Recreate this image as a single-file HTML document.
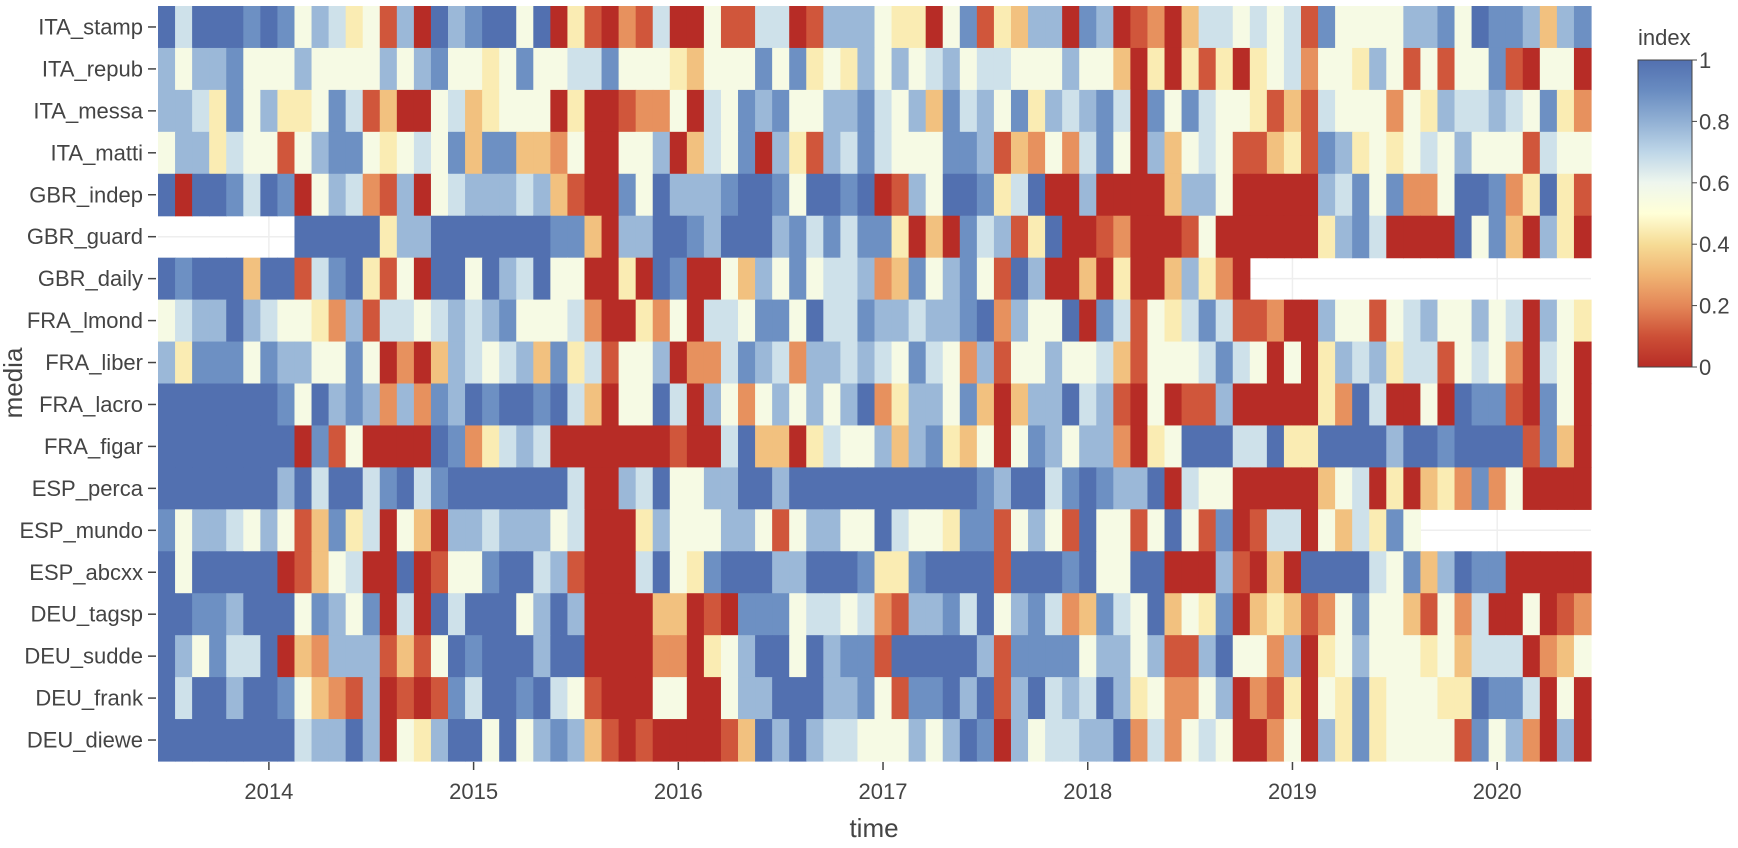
<!DOCTYPE html>
<html>
<head>
<meta charset="utf-8">
<style>
  html,body{margin:0;padding:0;background:#fff;}
  svg{display:block;font-family:"Liberation Sans",Arial,sans-serif;}
</style>
</head>
<body>
<svg id="chart" width="1738" height="848" viewBox="0 0 1738 848" xmlns="http://www.w3.org/2000/svg">
  <g id="grid"></g>
  <g id="cells"></g>
  <g id="yaxis"></g>
  <g id="xaxis"></g>
  <text x="874" y="837" font-size="26" fill="#444" text-anchor="middle">time</text>
  <text x="22" y="383" font-size="26" fill="#444" text-anchor="middle" transform="rotate(-90 22 383)">media</text>
  <defs>
    <linearGradient id="cbgrad" x1="0" y1="1" x2="0" y2="0">
      <stop offset="0" stop-color="rgb(183,44,38)"/>
      <stop offset="0.1" stop-color="rgb(205,80,55)"/>
      <stop offset="0.2" stop-color="rgb(228,135,88)"/>
      <stop offset="0.3" stop-color="rgb(240,180,115)"/>
      <stop offset="0.4" stop-color="rgb(246,220,150)"/>
      <stop offset="0.5" stop-color="rgb(255,255,215)"/>
      <stop offset="0.6" stop-color="rgb(238,246,238)"/>
      <stop offset="0.7" stop-color="rgb(190,214,232)"/>
      <stop offset="0.8" stop-color="rgb(145,176,212)"/>
      <stop offset="0.9" stop-color="rgb(105,140,193)"/>
      <stop offset="1" stop-color="rgb(82,112,176)"/>
    </linearGradient>
  </defs>
  <g id="colorbar">
    <text x="1638" y="45" font-size="22" fill="#444">index</text>
    <rect x="1638" y="60" width="54" height="307" fill="url(#cbgrad)" stroke="#444" stroke-width="1"/>
  </g>
</svg>
<script>
const mediaNames = ["ITA_stamp","ITA_repub","ITA_messa","ITA_matti","GBR_indep","GBR_guard","GBR_daily","FRA_lmond","FRA_liber","FRA_lacro","FRA_figar","ESP_perca","ESP_mundo","ESP_abcxx","DEU_tagsp","DEU_sudde","DEU_frank","DEU_diewe"];
const startYear = 2013, startMonth = 7, monthCount = 84;
const yearTicks = [2014,2015,2016,2017,2018,2019,2020];
const colorbarTicks = [0,0.2,0.4,0.6,0.8,1];
const colorbarTickLabels = ["0","0.2","0.4","0.6","0.8","1"];
// digit d -> index d/9 ; '-' = missing
const rowValues = [
"9699989857645170978995904"+"1021600511660177754405814"+"3770870120366565618555577"+"859887378",
"7577855575555757855458556"+"6855543555858454757567566"+"5557553040414045625547515"+"155810550",
"7764857445861300563455504"+"0012250658785577865738675"+"8476786085865541316555254"+"766765842",
"5774655157885456583883325"+"0055703658074176865558871"+"3252685073565113418745456"+"575551655",
"9099869805762170567776731"+"0085977789985998901759984"+"6900700003775000007685822"+"599824941",
"--------"+"99999477999999988307"+"7998799978686884030867149001"+"2000150000004786000095830740",
"9899939916894150995976955004"+"0980053758566723857851970030"+"40037420"+"--------------------",
"5677976554271665676785556200"+"4250665885966877677892755908"+"6154686112007551567557560754",
"7488858775585020376567384615"+"5702268762776765865271557556"+"3155568650504767466156520650",
"9999999859787272879899896305"+"5960752575757924775830377967"+"1050117000004296005098810850",
"9999999908150000982467600000"+"0010069330465573784350587577"+"2045999669449999799899991830",
"9999999796996896899999996007"+"6955779979999999999987996898"+"7790655000003560403428250000",
"8577657513846053077677756000"+"4755577515775596554881575195"+"515951801660536485"+"----------",
"9599999013560090155899671000"+"6954899977999844899991999895"+"5990007103099996583798800000",
"9988799958758060969995797000"+"0330108885665621778695786238"+"6593548034312585531526005012",
"9758669032777131598999799000"+"0220457995978819999971888857"+"7571179552704575554536660235",
"9699799853217010186998965100"+"0550057799977851889791796769"+"7452257021405484555449886050",
"9999999967797054799595787310"+"1000013979766555757980756677"+"9262565002507484555518572070"
];
const svgNS = "http://www.w3.org/2000/svg";
const X0 = 158, X1 = 1591, Y0 = 6, Y1 = 761;
const CW = (X1 - X0) / monthCount;
const RH = (Y1 - Y0) / mediaNames.length;
const stops = [[0,[183,44,38]],[0.1,[205,80,55]],[0.2,[228,135,88]],[0.3,[240,180,115]],[0.4,[246,220,150]],[0.5,[255,255,215]],[0.6,[238,246,238]],[0.7,[190,214,232]],[0.8,[145,176,212]],[0.9,[105,140,193]],[1,[82,112,176]]];
function colorFor(v){
  for(let i=1;i<stops.length;i++){
    if(v<=stops[i][0]){
      const a=stops[i-1], b=stops[i], t=(v-a[0])/(b[0]-a[0]);
      const c=a[1].map((x,k)=>Math.round(x+(b[1][k]-x)*t));
      return "rgb("+c.join(",")+")";
    }
  }
  return "rgb(82,112,176)";
}
function xScale(monthIndex){ return X0 + (monthIndex + 0.5) * CW; }
function yScale(rowIndex){ return Y0 + (rowIndex + 0.5) * RH; }
function mk(tag, attrs, parent){
  const el = document.createElementNS(svgNS, tag);
  for (const k in attrs) el.setAttribute(k, attrs[k]);
  parent.appendChild(el);
  return el;
}
const grid = document.getElementById("grid");
const cells = document.getElementById("cells");
const yaxis = document.getElementById("yaxis");
const xaxis = document.getElementById("xaxis");
yearTicks.forEach(yr=>{
  const mi = (yr - startYear) * 12 + (1 - startMonth);
  const x = xScale(mi);
  const l = mk("line",{x1:x,x2:x,y1:Y0,y2:Y1,stroke:"#eee","stroke-width":1.5},grid);
  
  
});
mediaNames.forEach((n,r)=>{
  const y = yScale(r);
  const l = mk("line",{x1:X0,x2:X1,y1:y,y2:y,stroke:"#eee","stroke-width":1.5},grid);
  
  
});
rowValues.forEach((s,r)=>{
  for(let c=0;c<s.length && c<monthCount;c++){
    const ch = s[c];
    if(ch === "-") continue;
    const v = parseInt(ch,10)/9;
    const rect = mk("rect",{x:(X0 + c*CW).toFixed(2), y:(Y0 + r*RH).toFixed(2), width:(CW+0.6).toFixed(2), height:(RH+0.6).toFixed(2), fill:colorFor(v)},cells);
    
    
  }
});
mediaNames.forEach((n,r)=>{
  const y = yScale(r);
  const t = mk("line",{x1:148,x2:156,y1:y,y2:y,stroke:"#444","stroke-width":1.5},yaxis);
  
  
  const tx = mk("text",{x:143,y:y+7.5,"font-size":22,fill:"#444","text-anchor":"end"},yaxis);
  tx.textContent = n;
  
  
});
yearTicks.forEach(yr=>{
  const mi = (yr - startYear) * 12 + (1 - startMonth);
  const x = xScale(mi);
  const t = mk("line",{x1:x,x2:x,y1:Y1+1,y2:Y1+9,stroke:"#444","stroke-width":1.5},xaxis);
  
  
  const tx = mk("text",{x:x,y:799,"font-size":22,fill:"#444","text-anchor":"middle"},xaxis);
  tx.textContent = String(yr);
  
  
});
const cb = document.getElementById("colorbar");
const CB0 = 367, CB1 = 60;
colorbarTicks.forEach((v,i)=>{
  const y = CB0 + (CB1 - CB0) * v;
  const t = mk("line",{x1:1692,x2:1697,y1:y,y2:y,stroke:"#444","stroke-width":1},cb);
  
  
  const tx = mk("text",{x:1699,y:y+8,"font-size":22,fill:"#444"},cb);
  tx.textContent = colorbarTickLabels[i];
  
  
});
</script>
</body>
</html>
